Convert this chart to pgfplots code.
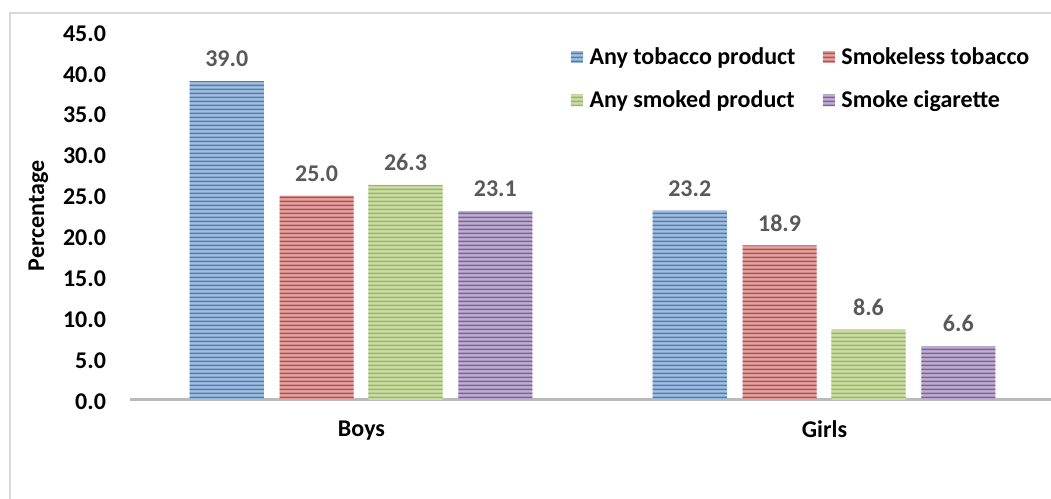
\documentclass[border=0pt]{standalone}
\usepackage{fontspec}
\setmainfont{Carlito}
\usepackage{pgfplots}
\pgfplotsset{compat=1.18}
\usetikzlibrary{patterns}
\definecolor{cblue}{HTML}{4A7EBB}
\definecolor{cred}{HTML}{BE4B48}
\definecolor{cgreen}{HTML}{98B954}
\definecolor{cpurple}{HTML}{7D60A0}
\definecolor{lblgray}{HTML}{595959}
\pgfdeclarepatternformonly{thicklines}{\pgfpointorigin}{\pgfqpoint{100pt}{3pt}}{\pgfqpoint{100pt}{3pt}}{%
  \pgfsetlinewidth{1.4pt}%
  \pgfpathmoveto{\pgfqpoint{-1pt}{1.5pt}}%
  \pgfpathlineto{\pgfqpoint{101pt}{1.5pt}}%
  \pgfusepath{stroke}}
\pgfkeys{/pgf/number format/assume math mode=true}
\begin{document}
\begin{tikzpicture}[x=1pt,y=1pt,font=\fontsize{18}{21.6}\selectfont\bfseries]
\useasboundingbox (-97.5,-74.25) rectangle (690.75,300);
\draw[black!15, line width=1pt] (-90,-80) -- (-90,290.25) -- (700,290.25);
\begin{axis}[
  at={(0,0)}, anchor=south west,
  scale only axis, width=694.5pt, height=276pt,
  xmin=-0.5, xmax=1.5, ymin=0, ymax=45,
  axis lines*=left,
  x axis line style={draw=black!27, line width=2.25pt},
  y axis line style={draw=none},
  major tick length=0pt,
  xtick={0,1}, xticklabels={Boys,Girls},
  ytick={0,5,...,45},
  yticklabel={\pgfmathprintnumber[fixed,fixed zerofill,precision=1]{\tick}},
  yticklabel style={xshift=-14.5pt, yshift=-1pt},
  xticklabel style={yshift=-12pt},
  ylabel={Percentage},
  ylabel style={at={(axis description cs:-0.099,0.5)}, anchor=center, rotate=0},
  ybar, bar width=0.16,
  nodes near coords={\pgfmathprintnumber[fixed,fixed zerofill,precision=1]{\pgfplotspointmeta}},
  nodes near coords style={text=lblgray, anchor=south, yshift=7pt},
  legend columns=2,
  legend cell align=left,
  legend style={draw=none, fill=none, at={(0.4715,0.972)}, anchor=north west,
    /tikz/every odd column/.append style={column sep=3pt},
    /tikz/every even column/.append style={column sep=18.5pt},
    row sep=14pt},
  legend image code/.code={\fill[#1] (0pt,-4.5pt) rectangle (9pt,4.5pt);},
]
\addplot+[bar shift=-0.291, draw=none, fill=cblue!50!white, postaction={pattern=thicklines, pattern color=cblue}] coordinates {(0,39.0) (1,23.2)};
\addplot+[bar shift=-0.097, draw=none, fill=cred!50!white, postaction={pattern=thicklines, pattern color=cred}] coordinates {(0,25.0) (1,18.9)};
\addplot+[bar shift=0.095, draw=none, fill=cgreen!50!white, postaction={pattern=thicklines, pattern color=cgreen}] coordinates {(0,26.3) (1,8.6)};
\addplot+[bar shift=0.289, draw=none, fill=cpurple!50!white, postaction={pattern=thicklines, pattern color=cpurple}] coordinates {(0,23.1) (1,6.6)};
\legend{Any tobacco product, Smokeless tobacco, Any smoked product, Smoke cigarette}
\end{axis}
\end{tikzpicture}
\end{document}
